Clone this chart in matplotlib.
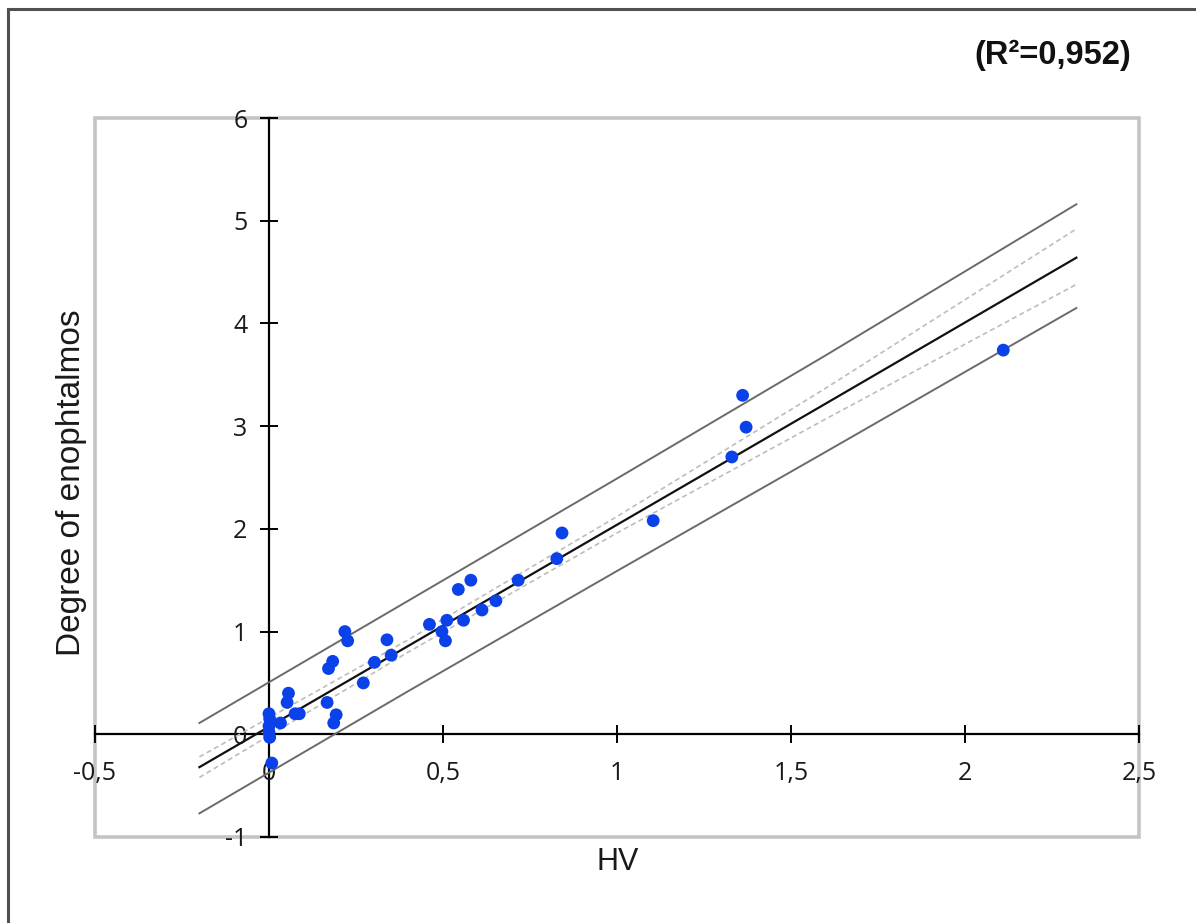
import matplotlib
matplotlib.use("Agg")
import matplotlib.pyplot as plt
from matplotlib.patches import Rectangle
from matplotlib.lines import Line2D

# ---- data ----
hv = [0.716, 0.580, 0.544, 0.652, 0.612, 0.559, 0.511, 0.461, 0.497, 0.507,
      0.339, 0.351, 0.303, 0.271, 0.218, 0.226, 0.183, 0.171, 0.167, 0.193,
      0.186, 0.056, 0.052, 0.075, 0.087, 0.033, 0.000, 0.002, 0.000, 0.000,
      0.002, 0.008, 1.104, 0.842, 0.827, 1.361, 1.371, 1.330, 2.110]
enoph = [1.50, 1.50, 1.41, 1.30, 1.21, 1.11, 1.11, 1.07, 1.00, 0.91,
         0.92, 0.77, 0.70, 0.50, 1.00, 0.91, 0.71, 0.64, 0.31, 0.19,
         0.11, 0.40, 0.31, 0.20, 0.20, 0.11, 0.20, 0.15, 0.08, 0.02,
         -0.03, -0.28, 2.08, 1.96, 1.71, 3.30, 2.99, 2.70, 3.74]

band_x = [-0.2, 0.4, 1.0, 1.6, 2.32]
fit_y = [-0.32, 0.86, 2.04, 3.22, 4.64]
pi_upper = [0.11, 1.30, 2.49, 3.69, 5.16]
pi_lower = [-0.77, 0.42, 1.59, 2.75, 4.15]
ci_upper = [-0.22, 0.92, 2.12, 3.37, 4.92]
ci_lower = [-0.42, 0.80, 1.96, 3.07, 4.38]

x_ticks = [-0.5, 0, 0.5, 1, 1.5, 2, 2.5]
x_tick_labels = ["-0,5", "0", "0,5", "1", "1,5", "2", "2,5"]
y_ticks = [-1, 0, 1, 2, 3, 4, 5, 6]
y_tick_labels = ["-1", "0", "1", "2", "3", "4", "5", "6"]

x_label = "HV"
y_label = "Degree of enophtalmos"
r2_text = "(R²=0,952)"

# ---- figure ----
W, H = 1196, 923
fig = plt.figure(figsize=(W / 100, H / 100), dpi=100)
fig.patch.set_facecolor("white")

# outer border (left and top)
fig.add_artist(Line2D([8 / W, 8 / W], [0, 1 - 9 / H], transform=fig.transFigure,
                      color="#505050", lw=2.2))
fig.add_artist(Line2D([8 / W, 1], [1 - 9 / H, 1 - 9 / H], transform=fig.transFigure,
                      color="#505050", lw=2.2))

left, right, top, bottom = 95, 1139, 118, 837
ax = fig.add_axes([left / W, 1 - bottom / H, (right - left) / W, (bottom - top) / H])
ax.set_xlim(-0.5, 2.5)
ax.set_ylim(-1, 6)

# gray plot-area frame
ax.add_patch(Rectangle((0, 0), 1, 1, transform=ax.transAxes, fill=False,
                       edgecolor="#c4c4c4", lw=2.6, clip_on=False, zorder=0))

# axes crossing at origin
for s in ["top", "right"]:
    ax.spines[s].set_visible(False)
ax.spines["left"].set_position(("data", 0))
ax.spines["bottom"].set_position(("data", 0))
for s in ["left", "bottom"]:
    ax.spines[s].set_color("black")
    ax.spines[s].set_linewidth(1.6)
    ax.spines[s].set_zorder(1)

ax.set_xticks(x_ticks)
ax.set_xticklabels(x_tick_labels)
ax.set_yticks(y_ticks)
ax.set_yticklabels(y_tick_labels)
ax.tick_params(axis="both", direction="inout", length=13, width=1.4, color="black",
               labelsize=18)
ax.tick_params(axis="x", pad=13)
ax.tick_params(axis="y", pad=9)
for lab in ax.get_xticklabels() + ax.get_yticklabels():
    lab.set_family(["Open Sans", "DejaVu Sans"])
    lab.set_color("#1a1a1a")

# bands and fit
ax.plot(band_x, pi_upper, color="#6a6a6a", lw=1.4, zorder=2)
ax.plot(band_x, pi_lower, color="#6a6a6a", lw=1.4, zorder=2)
ax.plot(band_x, ci_upper, color="#bdbdbd", lw=1.2, ls=(0, (3, 2)), zorder=2)
ax.plot(band_x, ci_lower, color="#bdbdbd", lw=1.2, ls=(0, (3, 2)), zorder=2)
ax.plot(band_x, fit_y, color="#111111", lw=1.6, zorder=3)

ax.scatter(hv, enoph, s=85, color="#0b41e8", edgecolors="none", zorder=4)

ax.set_facecolor("none")

# axis labels
fig.text(618 / W, 1 - 862 / H, x_label, ha="center", va="center",
         fontsize=22, family=["Liberation Sans", "DejaVu Sans"], color="#1a1a1a")
fig.text(72 / W, 1 - 483 / H, y_label, ha="center", va="center", rotation=90,
         fontsize=24, family=["Liberation Sans", "DejaVu Sans"], color="#1a1a1a")

fig.text(1131 / W, 1 - 55 / H, r2_text, ha="right", va="center", fontsize=23.5,
         fontweight="bold", family=["Liberation Sans", "DejaVu Sans"], color="#111111")

fig.savefig("out.png", dpi=100, facecolor="white")
